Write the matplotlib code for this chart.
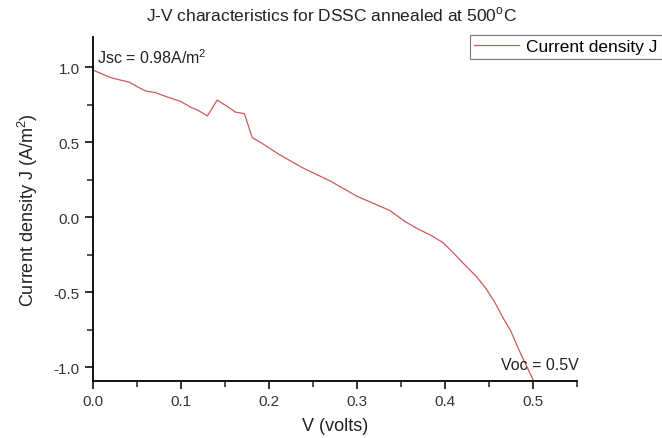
import matplotlib
matplotlib.use("Agg")
import matplotlib.pyplot as plt
from matplotlib.ticker import MultipleLocator

plt.rcParams['font.family'] = ['Liberation Sans', 'DejaVu Sans']
plt.rcParams['mathtext.fontset'] = 'custom'
plt.rcParams['mathtext.rm'] = 'Liberation Sans'

V = [0, 0.01, 0.02, 0.03, 0.041, 0.05, 0.06, 0.071, 0.08, 0.09, 0.10, 0.112,
     0.12, 0.13, 0.141, 0.152, 0.162, 0.172, 0.181, 0.19, 0.211, 0.238, 0.27,
     0.30, 0.329, 0.337, 0.355, 0.37, 0.384, 0.398, 0.41, 0.423, 0.435, 0.446,
     0.456, 0.466, 0.475, 0.483, 0.491, 0.5]
J = [0.98, 0.955, 0.93, 0.915, 0.90, 0.87, 0.84, 0.83, 0.81, 0.79, 0.77, 0.73,
     0.71, 0.675, 0.78, 0.74, 0.70, 0.69, 0.53, 0.50, 0.42, 0.33, 0.24,
     0.14, 0.066, 0.046, -0.03, -0.08, -0.12, -0.17, -0.24, -0.32, -0.39, -0.47,
     -0.56, -0.67, -0.76, -0.87, -0.97, -1.08]

fig = plt.figure(figsize=(6.62, 4.39), dpi=100)
ax = fig.add_axes([0.1405, 0.1298, 0.7311, 0.7836])
ax.plot(V, J, color='#cc5a5a', lw=0.9, label='Current density J')

ax.set_xlim(0, 0.55)
ax.set_ylim(-1.09, 1.2)
ax.xaxis.set_minor_locator(MultipleLocator(0.05))
ax.yaxis.set_minor_locator(MultipleLocator(0.25))
ax.set_xticks([0, 0.1, 0.2, 0.3, 0.4, 0.5])
ax.set_xticklabels(['0.0', '0.1', '0.2', '0.3', '0.4', '0.5'])
ax.set_yticks([-1.0, -0.5, 0.0, 0.5, 1.0])
ax.set_yticklabels(['-1.0', '-0.5', '0.0', '0.5', '1.0'])

for s in ['top', 'right']:
    ax.spines[s].set_visible(False)
for s in ['left', 'bottom']:
    ax.spines[s].set_linewidth(1.3)
ax.tick_params(which='major', direction='out', length=6, width=1.3, labelsize=11, colors='#222222', labelcolor='#333333')
ax.tick_params(which='minor', direction='out', length=4, width=1.1, colors='#222222')

ax.set_xlabel('V (volts)', fontsize=13, color='#222222', labelpad=6)
ax.set_ylabel('Current density J (A/m$^2$)', fontsize=13, color='#222222', labelpad=10)
fig.text(0.5, 0.965, 'J-V characteristics for DSSC annealed at 500$^\\mathrm{o}$C',
         ha='center', va='center', fontsize=12.5, color='#222222')

ax.text(0.005, 1.01, 'Jsc = 0.98A/m$^2$', fontsize=11.5, color='#222222', ha='left', va='bottom')
ax.text(0.464, -1.03, 'Voc = 0.5V', fontsize=11.5, color='#222222', ha='left', va='bottom')

leg = fig.legend(loc='upper right', bbox_to_anchor=(1.0, 0.918), fontsize=12.5,
                 frameon=True, fancybox=False, edgecolor='#555555', handlelength=2.6,
                 borderpad=0.25, handletextpad=0.4, borderaxespad=0)
leg.get_frame().set_linewidth(0.8)

fig.savefig('out.png', dpi=100)
